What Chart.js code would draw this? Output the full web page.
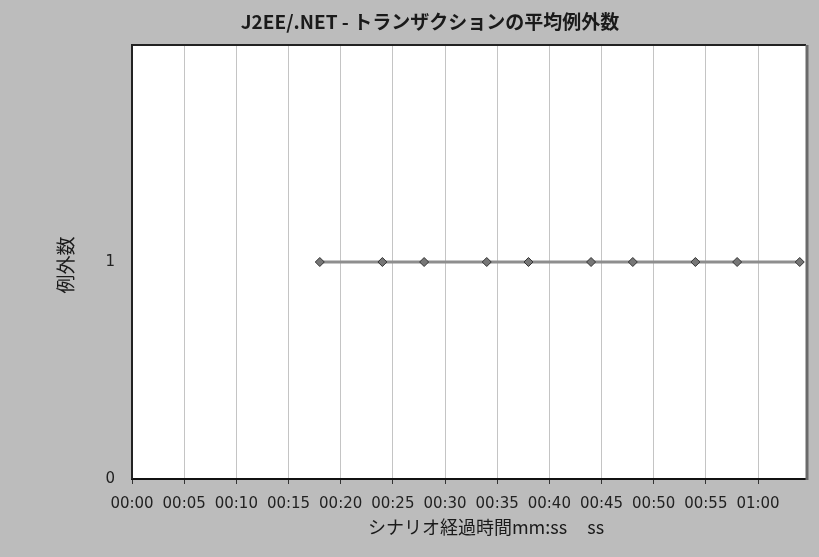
<!DOCTYPE html>
<html>
<head>
<meta charset="utf-8">
<script src="https://cdn.jsdelivr.net/npm/chart.js@4/dist/chart.umd.min.js"></script>
<style>
  html, body { margin: 0; padding: 0; background: #bcbcbc; }
  #wrap { width: 819px; height: 557px; }
</style>
</head>
<body>
<div id="wrap"><canvas id="exChart" width="819" height="557"></canvas></div>
<script>
  const chartTitle = 'J2EE/.NET - トランザクションの平均例外数';
  const xTitle = 'シナリオ経過時間mm:ss     ss';
  const yTitle = '例外数';

  // elapsed scenario time (seconds) and average exception count
  const elapsedSec = [18, 24, 28, 34, 38, 44, 48, 54, 58, 64];
  const avgExceptions = [1, 1, 1, 1, 1, 1, 1, 1, 1, 1];

  const xTickSec = [0, 5, 10, 15, 20, 25, 30, 35, 40, 45, 50, 55, 60];
  const yTickVals = [0, 1];

  const FONT = "'Noto Sans CJK JP', 'DejaVu Sans', sans-serif";
  const TICK_FONT = { family: "'DejaVu Sans', sans-serif", size: 15 };

  function mmss(s) {
    const m = Math.floor(s / 60), r = s % 60;
    return String(m).padStart(2, '0') + ':' + String(r).padStart(2, '0');
  }

  const frame = {
    id: 'frame',
    beforeDraw(chart) {
      const { ctx, chartArea: a, width, height } = chart;
      ctx.save();
      ctx.fillStyle = '#bcbcbc';
      ctx.fillRect(0, 0, width, height);
      ctx.fillStyle = '#ffffff';
      ctx.fillRect(a.left, a.top, a.right - a.left, a.bottom - a.top);
      ctx.restore();
    },
    afterDraw(chart) {
      const { ctx, chartArea: a } = chart;
      ctx.save();
      ctx.strokeStyle = '#222';
      ctx.lineWidth = 2;
      ctx.beginPath();
      ctx.moveTo(a.left, a.bottom);
      ctx.lineTo(a.left, a.top);
      ctx.lineTo(a.right, a.top);
      ctx.stroke();
      ctx.strokeStyle = '#6a6a6a';
      ctx.lineWidth = 3;
      ctx.beginPath();
      ctx.moveTo(a.right + 1, a.top);
      ctx.lineTo(a.right + 1, a.bottom + 1);
      ctx.stroke();

      // chart and axis titles
      ctx.fillStyle = '#1a1a1a';
      ctx.textAlign = 'center';
      ctx.textBaseline = 'middle';
      ctx.font = 'bold 19px ' + FONT;
      ctx.fillText(chartTitle, 430, 22);
      ctx.font = '18px ' + FONT;
      ctx.fillText(xTitle, 486, 527);
      ctx.translate(66, 265);
      ctx.rotate(-Math.PI / 2);
      ctx.font = '19px ' + FONT;
      ctx.fillText(yTitle, 0, 0);
      ctx.restore();
    }
  };

  new Chart(document.getElementById('exChart'), {
    type: 'line',
    data: {
      datasets: [{
        data: elapsedSec.map((s, i) => ({ x: s, y: avgExceptions[i] })),
        borderColor: '#8e8e8e',
        borderWidth: 3,
        pointStyle: 'rectRot',
        pointRadius: 4.5,
        pointBackgroundColor: '#767676',
        pointBorderColor: '#333',
        pointBorderWidth: 1,
        tension: 0
      }]
    },
    options: {
      responsive: false,
      animation: false,
      layout: { padding: { left: 0, right: 13, top: 45, bottom: 0 } },
      plugins: {
        legend: { display: false },
        tooltip: { enabled: false },
        title: { display: false }
      },
      scales: {
        x: {
          type: 'linear',
          min: 0,
          max: 64.6,
          afterBuildTicks(scale) { scale.ticks = xTickSec.map(v => ({ value: v })); },
          afterFit(scale) { scale.height = 78; },
          ticks: {
            includeBounds: false,
            autoSkip: false,
            maxRotation: 0,
            padding: 11,
            color: '#222',
            font: TICK_FONT,
            callback: v => mmss(v)
          },
          grid: { color: '#c4c4c4', lineWidth: 1, tickColor: '#333', tickLength: 5 },
          border: { display: true, color: '#111', width: 2 }
        },
        y: {
          min: 0,
          max: 2,
          afterBuildTicks(scale) { scale.ticks = yTickVals.map(v => ({ value: v })); },
          afterFit(scale) { scale.width = 132; },
          ticks: {
            padding: 9,
            color: '#222',
            font: TICK_FONT
          },
          grid: { display: false },
          border: { display: false }
        }
      }
    },
    plugins: [frame]
  });
</script>
</body>
</html>
